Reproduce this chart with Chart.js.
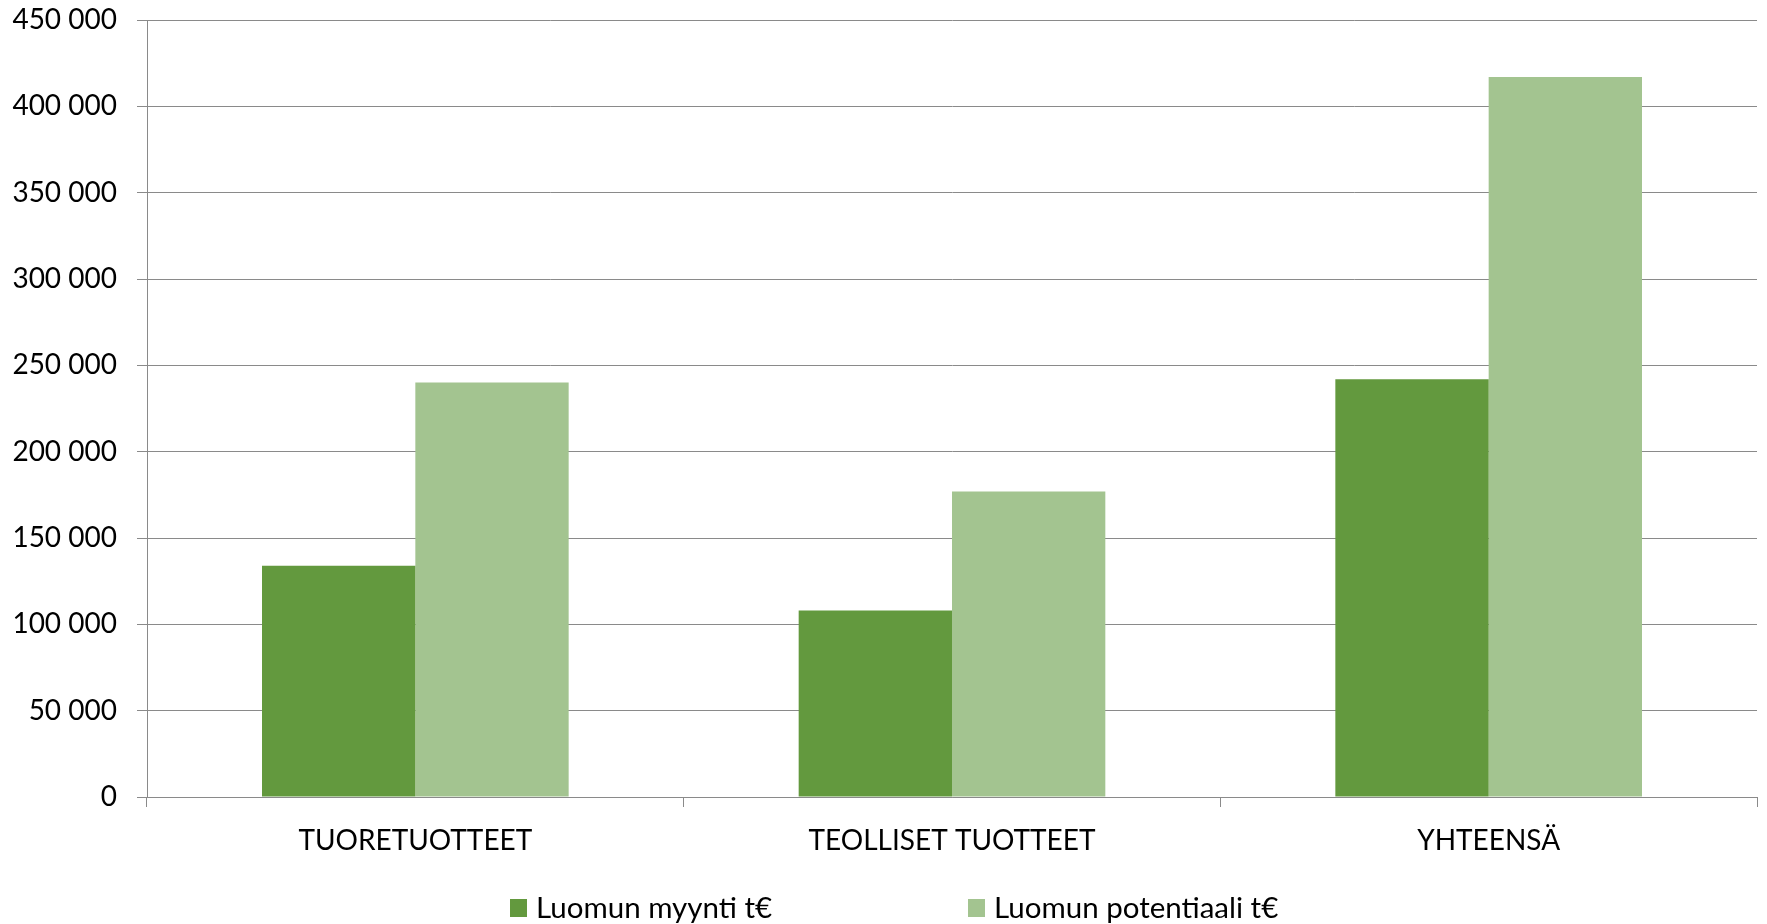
<!DOCTYPE html>
<html>
<head>
<meta charset="utf-8">
<script src="https://cdn.jsdelivr.net/npm/chart.js@4/dist/chart.umd.min.js"></script>
<style>
  html, body { margin: 0; padding: 0; background: #ffffff; }
  #wrap { position: relative; width: 1767px; height: 924px; }
  canvas { position: absolute; left: 0; top: 0; }
  .leg { position: absolute; font-family: Lato, "Open Sans", sans-serif; font-size: 29.5px; line-height: 28px; color: #000; white-space: nowrap; }
  .leg .box { position: absolute; width: 17px; height: 18px; }
  .leg .txt { position: absolute; left: 26px; top: 0; }
</style>
</head>
<body>
<div id="wrap">
  <canvas id="c" width="1767" height="924"></canvas>
  <div id="legend"></div>
</div>
<script>
const categories = ['TUORETUOTTEET', 'TEOLLISET TUOTTEET', 'YHTEENSÄ'];
const seriesNames = ['Luomun myynti t€', 'Luomun potentiaali t€'];
const myynti = [134000, 108000, 242000];
const potentiaali = [240000, 177000, 417000];
const yTickValues = [0, 50000, 100000, 150000, 200000, 250000, 300000, 350000, 400000, 450000];
const yTickLabels = ['0', '50 000', '100 000', '150 000', '200 000', '250 000', '300 000', '350 000', '400 000', '450 000'];
const colors = ['#63993e', '#a3c490'];

const gridColor = '#8a8a8a';
Chart.defaults.font.family = 'Lato, "Open Sans", sans-serif';
Chart.defaults.color = '#000000';

new Chart(document.getElementById('c'), {
  type: 'bar',
  data: {
    labels: categories,
    datasets: [
      { label: seriesNames[0], data: myynti, backgroundColor: colors[0], borderWidth: 0 },
      { label: seriesNames[1], data: potentiaali, backgroundColor: colors[1], borderWidth: 0 }
    ]
  },
  options: {
    responsive: false,
    animation: false,
    layout: { padding: { left: 0, right: 10, top: 20, bottom: 67 } },
    plugins: { legend: { display: false }, tooltip: { enabled: false } },
    datasets: { bar: { categoryPercentage: 0.5714, barPercentage: 1.0 } },
    scales: {
      x: {
        offset: true,
        grid: { display: true, drawOnChartArea: false, drawTicks: true, tickLength: 10, offset: true, color: gridColor, lineWidth: 1 },
        border: { display: true, color: gridColor, width: 1 },
        ticks: { font: { size: 28 }, padding: 17, maxRotation: 0, autoSkip: false, color: '#000' },
        afterFit: (s) => { s.height = 60; }
      },
      y: {
        min: 0,
        max: 450000,
        afterBuildTicks: (s) => { s.ticks = yTickValues.map(v => ({ value: v })); },
        grid: { color: gridColor, lineWidth: 1, drawTicks: true, tickLength: 10 },
        border: { display: true, color: gridColor, width: 1 },
        ticks: {
          font: { size: 28 },
          padding: 20,
          color: '#000',
          callback: (v) => { const i = yTickValues.indexOf(v); return i >= 0 ? yTickLabels[i] : ''; }
        },
        afterFit: (s) => { s.width = 147; s.paddingTop = 0; s.paddingBottom = 0; }
      }
    }
  }
});

// HTML legend
const legendPos = [510, 968];
const legend = document.getElementById('legend');
seriesNames.forEach((name, i) => {
  const item = document.createElement('div');
  item.className = 'leg';
  item.style.left = legendPos[i] + 'px';
  item.style.top = '893px';
  const box = document.createElement('span');
  box.className = 'box';
  box.style.left = '0px';
  box.style.top = '6px';
  box.style.background = colors[i];
  const txt = document.createElement('span');
  txt.className = 'txt';
  txt.textContent = name;
  item.appendChild(box);
  item.appendChild(txt);
  legend.appendChild(item);
});
</script>
</body>
</html>
